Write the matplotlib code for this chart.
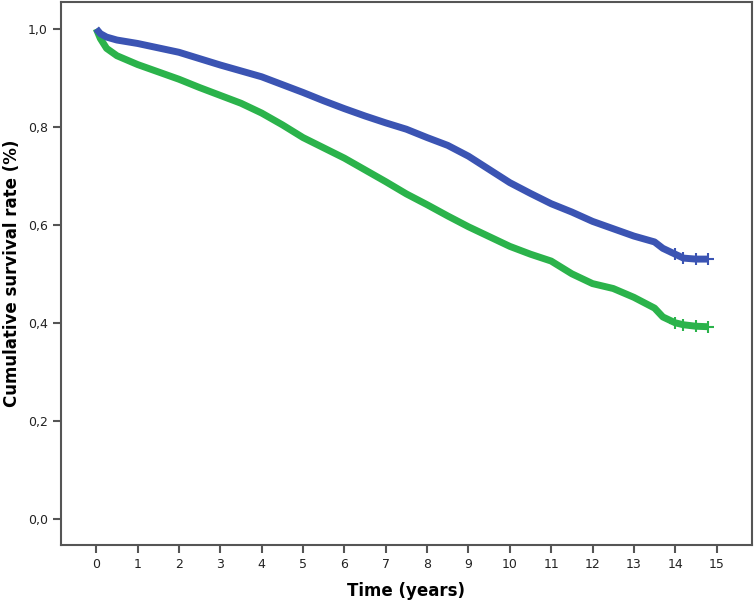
import matplotlib
matplotlib.use('Agg')
import matplotlib.pyplot as plt
from matplotlib.ticker import FuncFormatter

# survival curves (years, cumulative survival)
time_blue = [0, 0.1, 0.25, 0.5, 1, 1.5, 2, 2.5, 3, 3.5, 4, 4.5, 5, 5.5, 6, 6.5, 7,
             7.5, 8, 8.5, 9, 9.5, 10, 10.5, 11, 11.5, 12, 12.5, 13, 13.5, 13.7,
             14, 14.2, 14.5, 14.8]
surv_blue = [1.0, 0.99, 0.983, 0.977, 0.970, 0.961, 0.952, 0.939, 0.926, 0.914,
             0.902, 0.886, 0.870, 0.853, 0.837, 0.822, 0.808, 0.795, 0.778, 0.762,
             0.740, 0.713, 0.686, 0.664, 0.643, 0.626, 0.607, 0.592, 0.577, 0.565,
             0.552, 0.540, 0.532, 0.530, 0.530]

time_green = [0, 0.1, 0.25, 0.5, 1, 1.5, 2, 2.5, 3, 3.5, 4, 4.5, 5, 5.5, 6, 6.5, 7,
              7.5, 8, 8.5, 9, 9.5, 10, 10.5, 11, 11.5, 12, 12.5, 13, 13.5, 13.7,
              14, 14.2, 14.5, 14.8]
surv_green = [1.0, 0.98, 0.96, 0.945, 0.927, 0.912, 0.897, 0.880, 0.864, 0.848,
              0.828, 0.804, 0.778, 0.757, 0.736, 0.712, 0.688, 0.663, 0.641, 0.618,
              0.596, 0.576, 0.556, 0.540, 0.526, 0.500, 0.480, 0.470, 0.452, 0.430,
              0.412, 0.400, 0.396, 0.393, 0.392]

x_ticks = list(range(0, 16))
y_ticks = [0.0, 0.2, 0.4, 0.6, 0.8, 1.0]

BLUE = '#3b54b3'
GREEN = '#2bb34b'

fig = plt.figure(figsize=(7.54, 6.02), dpi=100)
ax = fig.add_axes([0.081, 0.095, 0.916, 0.902])

ax.plot(time_green, surv_green, color=GREEN, lw=5, solid_capstyle='butt', zorder=3)
ax.plot(time_blue, surv_blue, color=BLUE, lw=5, solid_capstyle='butt', zorder=4)
# censor marks at the tail ends
ax.plot(time_green[-4:], surv_green[-4:], ls='none', marker='+', color=GREEN,
        markersize=9, markeredgewidth=1.5, zorder=3)
ax.plot(time_blue[-4:], surv_blue[-4:], ls='none', marker='+', color=BLUE,
        markersize=9, markeredgewidth=1.5, zorder=4)

ax.set_xlim(-0.85, 15.85)
ax.set_ylim(-0.053, 1.055)
ax.set_xticks(x_ticks)
ax.set_yticks(y_ticks)
ax.yaxis.set_major_formatter(FuncFormatter(lambda v, p: f"{v:.1f}".replace('.', ',')))

for s in ax.spines.values():
    s.set_color('#555555')
    s.set_linewidth(1.5)
ax.tick_params(axis='both', direction='out', length=6, width=1.5, color='#555555',
               labelsize=9, labelcolor='#222222')

ax.set_xlabel('Time (years)', fontsize=12, fontweight='bold', labelpad=8)
fig.text(0.016, 0.546, 'Cumulative survival rate (%)', rotation=90, fontsize=12,
         fontweight='bold', ha='center', va='center')

fig.savefig('out.png', dpi=100)
plt.close(fig)
